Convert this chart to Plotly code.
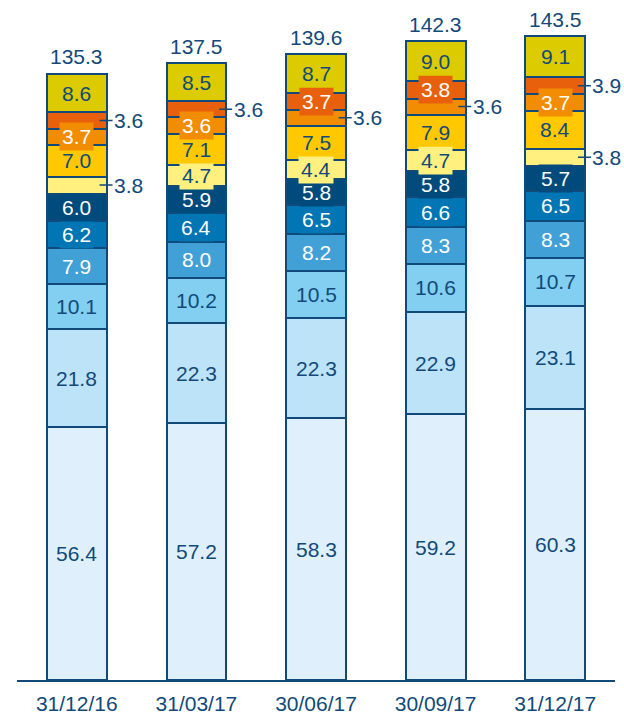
import plotly.graph_objects as go

dates = ["31/12/16", "31/03/17", "30/06/17", "30/09/17", "31/12/17"]
totals = [135.3, 137.5, 139.6, 142.3, 143.5]

s1 = [56.4, 57.2, 58.3, 59.2, 60.3]
s2 = [21.8, 22.3, 22.3, 22.9, 23.1]
s3 = [10.1, 10.2, 10.5, 10.6, 10.7]
s4 = [7.9, 8.0, 8.2, 8.3, 8.3]
s5 = [6.2, 6.4, 6.5, 6.6, 6.5]
s6 = [6.0, 5.9, 5.8, 5.8, 5.7]
s7 = [3.8, 4.7, 4.4, 4.7, 3.8]
s8 = [7.0, 7.1, 7.5, 7.9, 8.4]
s9 = [3.7, 3.6, 3.6, 3.6, 3.7]
s10 = [3.6, 3.6, 3.7, 3.8, 3.9]
s11 = [8.6, 8.5, 8.7, 9.0, 9.1]

series = [s1, s2, s3, s4, s5, s6, s7, s8, s9, s10, s11]
colors = ["#DFF0FC", "#BDE3F8", "#82CFF2", "#41A0D5", "#0276B4", "#004A7C",
          "#FFF080", "#FFC800", "#F28C00", "#E8600C", "#DBCB00"]
NAVY = "#114A7A"
text_colors = [NAVY, NAVY, NAVY, "white", "white", "white",
               NAVY, NAVY, "white", "white", NAVY]
# (series index, bar index) whose label sits outside the bar with a leader
outside = {(6, 0), (6, 4), (8, 2), (8, 3), (9, 0), (9, 1), (9, 4)}

FONT = "Liberation Sans, Arial, sans-serif"
FS = 21
xs = list(range(len(dates)))

fig = go.Figure()
for k, vals in enumerate(series):
    fig.add_trace(go.Bar(
        x=xs, y=vals, width=0.5,
        marker=dict(color=colors[k], line=dict(color=NAVY, width=2)),
        hoverinfo="skip", showlegend=False,
    ))

annotations = []
base = [0.0] * len(dates)
for k, vals in enumerate(series):
    for i, v in enumerate(vals):
        mid = base[i] + v / 2
        if (k, i) in outside:
            annotations.append(dict(
                x=i + 0.19, y=mid, xref="x", yref="y", text=f"{v:.1f}",
                showarrow=True, arrowhead=0, arrowwidth=1.5, arrowcolor=NAVY,
                ax=29, ay=0, standoff=0,
                font=dict(family=FONT, size=FS, color=NAVY),
            ))
        else:
            annotations.append(dict(
                x=i, y=mid, xref="x", yref="y", text=f"{v:.1f}",
                showarrow=False, bgcolor=colors[k], borderpad=2,
                font=dict(family=FONT, size=FS, color=text_colors[k]),
            ))
        base[i] += v

for i, t in enumerate(totals):
    annotations.append(dict(
        x=i, y=base[i], xref="x", yref="y", text=f"{t:.1f}",
        showarrow=False, yanchor="middle", yshift=17,
        font=dict(family=FONT, size=FS, color=NAVY),
    ))

fig.update_layout(
    barmode="stack",
    width=624, height=716,
    margin=dict(l=17, r=9, t=20, b=36),
    paper_bgcolor="white", plot_bgcolor="white",
    annotations=annotations,
    xaxis=dict(
        tickvals=xs, ticktext=dates, range=[-0.5, 4.5],
        showline=True, linecolor=NAVY, linewidth=2,
        showgrid=False, zeroline=False, ticks="",
        ticklabelstandoff=4, automargin=False,
        tickfont=dict(family=FONT, size=FS, color=NAVY),
        fixedrange=True,
    ),
    yaxis=dict(range=[0, 147.1], visible=False, fixedrange=True),
    font=dict(family=FONT, size=FS, color=NAVY),
)

fig.write_html(
    "out.html",
    config={"displayModeBar": False},
    post_script="document.body.style.margin='0';document.body.style.overflow='hidden';",
)
